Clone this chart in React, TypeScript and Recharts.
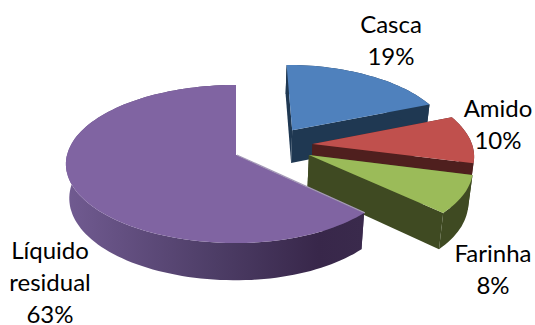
// App.tsx - exploded 3D pie of process fractions
import * as React from 'react';
import { PieChart, Pie } from 'recharts';

const categories = ['Casca', 'Amido', 'Farinha', 'Líquido residual'];
const shares = [19, 10, 8, 63];

const topColors = ['#4F81BD', '#C0504D', '#9BBB59', '#8064A2'];
const sideColors = ['#1F3852', '#4F1F1E', '#3F4A22', '#4A3A60'];

// how far each slice is pulled out of the pie, in units of the radius
const explodeX = [0.36, 0.48, 0.45, 0];
const explodeY = [0.33, 0.143, 0, 0];

const labelX = [391, 498, 493, 50];
const labelY = [33, 117, 262, 259];
const LINE_HEIGHT = 32;

const WIDTH = 535;
const HEIGHT = 325;

// tilted view of the pie: apex position, radii and perspective strength
const CX = 236;
const CY = 155;
const RX_LEFT = 169;
const RX_RIGHT = 162;
const RY = 78;
const PERSP = 0.114;
const FLOOR_SCALE = 0.98;

const data = categories.map((name, i) => ({ name, value: shares[i], fill: topColors[i] }));

type Pt = { x: number; y: number };

function projectTop(wx: number, wy: number): Pt {
  const s = 1 / (1 + PERSP * wy);
  const rx = wx < 0 ? RX_LEFT : RX_RIGHT;
  return { x: CX + rx * wx * s, y: CY - RY * wy * s };
}

function projectBottom(wx: number, wy: number): Pt {
  const t = projectTop(wx, wy);
  return {
    x: CX + (t.x - CX) * FLOOR_SCALE,
    y: CY + (t.y - CY) * FLOOR_SCALE + 34 - 5 * wy,
  };
}

const toPath = (pts: Pt[]) =>
  'M' + pts.map((p) => `${p.x.toFixed(1)},${p.y.toFixed(1)}`).join('L') + 'Z';

function Slice3D(props: any) {
  const i = categories.indexOf(props.name);
  const ox = explodeX[i];
  const oy = explodeY[i];
  const rim: [number, number][] = [];
  const steps = Math.max(2, Math.ceil(Math.abs(props.startAngle - props.endAngle) / 2));
  for (let k = 0; k <= steps; k++) {
    const a = ((props.startAngle + ((props.endAngle - props.startAngle) * k) / steps) * Math.PI) / 180;
    rim.push([ox + Math.cos(a), oy + Math.sin(a)]);
  }
  const [ex, ey] = rim[rim.length - 1];
  const [sx, sy] = rim[0];

  const top = toPath([projectTop(ox, oy), ...rim.map(([x, y]) => projectTop(x, y))]);
  const outer = toPath([
    ...rim.map(([x, y]) => projectTop(x, y)),
    ...[...rim].reverse().map(([x, y]) => projectBottom(x, y)),
  ]);
  const wallEnd = toPath([projectTop(ox, oy), projectTop(ex, ey), projectBottom(ex, ey), projectBottom(ox, oy)]);
  const wallStart = toPath([projectTop(ox, oy), projectTop(sx, sy), projectBottom(sx, sy), projectBottom(ox, oy)]);
  const apex = projectTop(ox, oy);
  const first = projectTop(sx, sy);

  return (
    <g>
      <defs>
        <linearGradient id="purpleWall" gradientUnits="userSpaceOnUse" x1="70" y1="0" x2="362" y2="0">
          <stop offset="0" stopColor="#705A90" />
          <stop offset="0.5" stopColor="#4D3D66" />
          <stop offset="0.85" stopColor="#38274A" />
          <stop offset="1" stopColor="#3A2A4C" />
        </linearGradient>
      </defs>
      <path d={wallStart} fill={sideColors[i]} />
      <path d={wallEnd} fill={sideColors[i]} />
      <path d={outer} fill={i === 3 ? 'url(#purpleWall)' : sideColors[i]} />
      <path d={top} fill={topColors[i]} />
      {i === 3 && (
        <line x1={first.x + 0.8} y1={first.y} x2={apex.x + 0.8} y2={apex.y} stroke="#A599B8" strokeWidth={1.2} />
      )}
    </g>
  );
}

function SliceLabel(props: any) {
  const i = categories.indexOf(props.name);
  const lines = [...String(props.name).split(' '), `${props.value}%`];
  return (
    <text x={labelX[i]} y={labelY[i]} textAnchor="middle" fontFamily="Lato" fontSize={24} fill="#000">
      {lines.map((line, k) => (
        <tspan key={k} x={labelX[i]} y={labelY[i] + k * LINE_HEIGHT}>
          {line}
        </tspan>
      ))}
    </text>
  );
}

export default function App() {
  return (
    <div style={{ position: 'absolute', left: 0, top: 0, width: WIDTH, height: HEIGHT, background: '#fff' }}>
      <PieChart width={WIDTH} height={HEIGHT} margin={{ top: 0, right: 0, bottom: 0, left: 0 }}>
        <Pie
          data={data}
          dataKey="value"
          nameKey="name"
          cx={CX}
          cy={CY}
          outerRadius={RX_LEFT}
          startAngle={90}
          endAngle={-270}
          stroke="none"
          isAnimationActive={false}
          shape={Slice3D}
          label={SliceLabel}
          labelLine={false}
        />
      </PieChart>
    </div>
  );
}
